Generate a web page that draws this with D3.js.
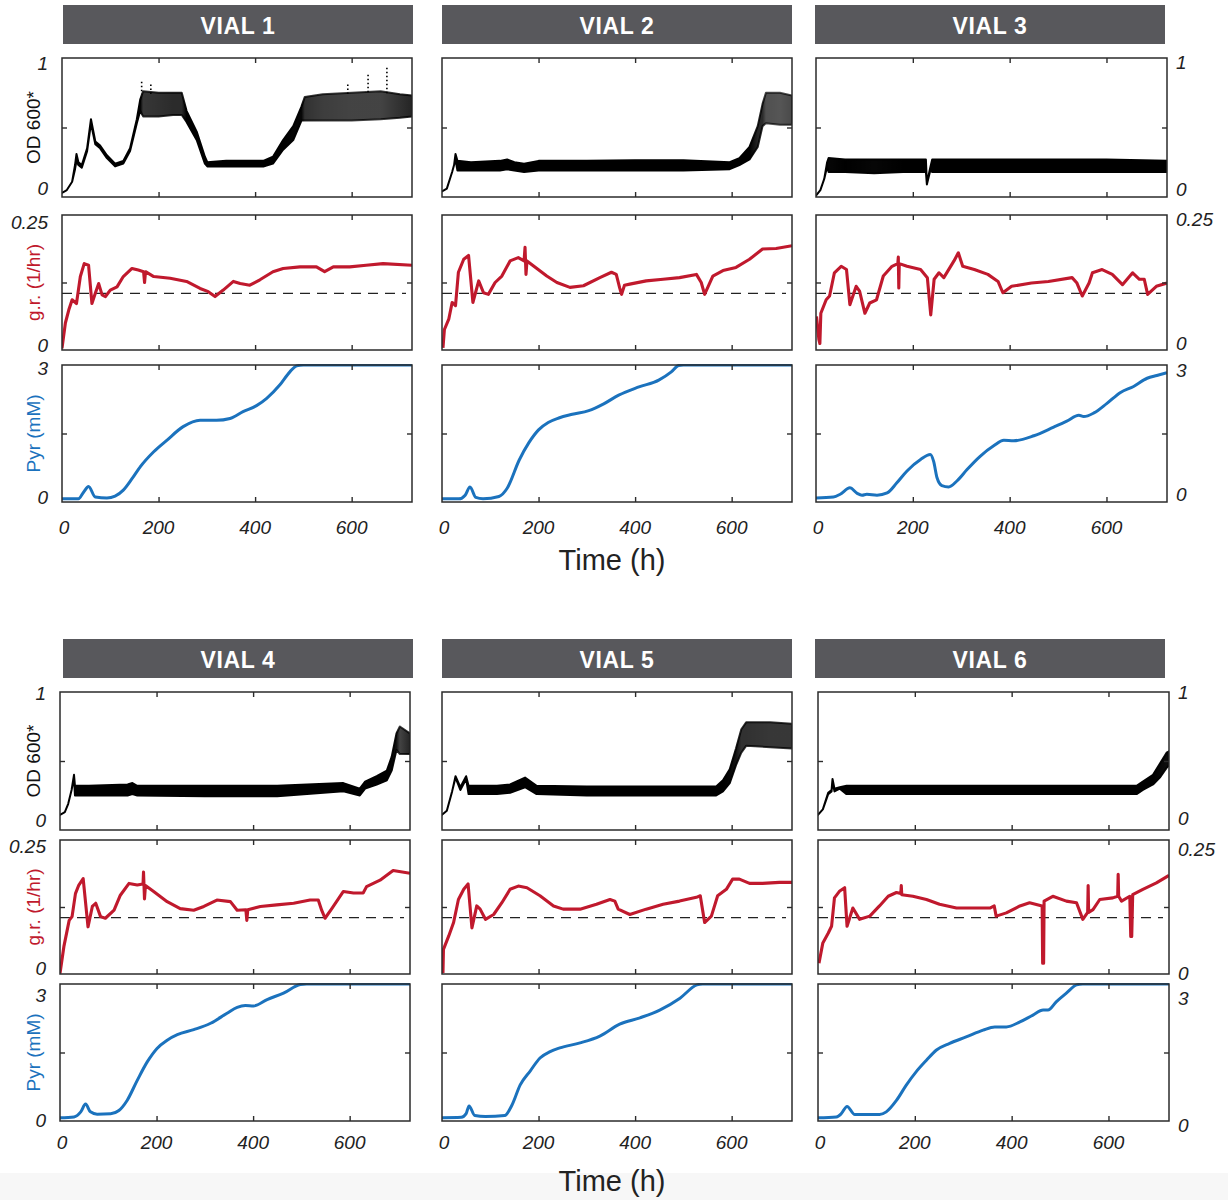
<!DOCTYPE html>
<meta charset="utf-8">
<style>
  body { margin: 0; background: #fff; }
  svg { display: block; font-family: "Liberation Sans", Arial, sans-serif; }
  .num { font-style: italic; font-size: 19px; fill: #222; }
</style>
<body>
<svg id="chart" width="1228" height="1200"></svg>
<script src="https://cdn.jsdelivr.net/npm/d3@7"></script>
<script>
// ---- data (time in h) ----
const vialNames = ["VIAL 1", "VIAL 2", "VIAL 3", "VIAL 4", "VIAL 5", "VIAL 6"];
const xTicks = [0, 200, 400, 600];
const threshold = 0.105;   // dashed reference growth rate

// OD 600*: [t, lower edge, upper edge] of the scatter band
const od1 = [[0,.03,.03],[10,.05,.05],[21,.11,.11],[27,.2,.23],[30,.26,.31],[34,.23,.25],[41,.21,.23],[52,.33,.35],[60,.53,.56],[69,.38,.40],[79,.35,.37],[93,.28,.30],[110,.22,.24],[127,.24,.26],[141,.33,.35],[155,.53,.56],[162,.62,.70],[168,.58,.76],[200,.58,.75],[230,.59,.75],[248,.59,.75],[258,.54,.62],[279,.41,.47],[296,.24,.29],[301,.22,.25],[340,.22,.26],[380,.22,.26],[417,.22,.26],[437,.24,.29],[458,.34,.41],[479,.41,.51],[496,.55,.65],[503,.55,.72],[540,.55,.74],[600,.55,.75],[660,.56,.76],[700,.57,.74],[725,.58,.73]];
const od2 = [[0,.04,.04],[10,.06,.06],[21,.18,.18],[25,.23,.23],[28,.27,.31],[32,.19,.26],[60,.19,.25],[120,.19,.26],[135,.2,.27],[150,.19,.25],[170,.18,.24],[200,.19,.26],[300,.19,.26],[400,.19,.265],[500,.19,.265],[596,.2,.25],[616,.23,.28],[637,.27,.36],[654,.36,.51],[664,.51,.67],[671,.53,.75],[700,.52,.75],[725,.52,.73]];
const od3 = [[0,.01,.01],[9,.05,.05],[17,.13,.13],[23,.22,.25],[26,.18,.28],[60,.18,.27],[120,.17,.27],[180,.18,.27],[227,.18,.27],[229,.09,.1],[236,.19,.21],[240,.18,.27],[300,.18,.27],[400,.18,.27],[500,.18,.27],[600,.18,.27],[725,.18,.26]];
const od4 = [[0,.11,.11],[10,.13,.13],[17,.19,.19],[24,.29,.29],[29,.38,.4],[31,.25,.32],[60,.25,.32],[140,.25,.33],[150,.26,.34],[160,.25,.32],[300,.245,.32],[450,.245,.32],[587,.28,.34],[621,.25,.3],[632,.3,.35],[656,.33,.39],[677,.36,.43],[687,.43,.53],[697,.58,.7],[704,.55,.75],[725,.55,.7]];
const od5 = [[0,.11,.11],[10,.14,.14],[21,.28,.28],[28,.38,.39],[38,.29,.31],[50,.37,.39],[55,.26,.32],[114,.26,.32],[141,.27,.33],[172,.31,.38],[196,.26,.32],[300,.25,.315],[450,.25,.315],[568,.25,.315],[582,.28,.36],[596,.34,.44],[609,.47,.59],[620,.56,.73],[630,.61,.78],[680,.6,.78],[725,.59,.77]];
const od6 = [[0,.11,.11],[10,.15,.15],[21,.26,.27],[28,.28,.29],[30,.35,.37],[34,.28,.3],[45,.3,.31],[59,.26,.32],[200,.26,.32],[400,.26,.32],[600,.26,.32],[658,.26,.32],[671,.29,.35],[692,.33,.4],[706,.38,.48],[720,.45,.56],[725,.47,.57]];
// stray OD points above the band in vial 1
const odOutliers1 = [[165,.83],[184,.81],[592,.81],[634,.88],[673,.93]];

// growth rate (1/hr): [t, value]
const gr1 = [[0,.003],[7,.05],[14,.074],[21,.093],[30,.086],[38,.136],[46,.16],[55,.157],[62,.086],[69,.105],[76,.123],[83,.102],[90,.099],[100,.111],[114,.117],[127,.136],[145,.151],[158,.148],[169,.145],[171,.125],[173,.145],[190,.136],[224,.133],[258,.127],[286,.114],[303,.108],[317,.099],[334,.111],[355,.127],[369,.123],[389,.12],[410,.13],[437,.145],[458,.151],[493,.154],[527,.154],[544,.145],[562,.154],[596,.154],[630,.157],[665,.16],[725,.157]];
const gr2 = [[2,.004],[5,.038],[14,.057],[21,.088],[28,.082],[34,.144],[45,.168],[55,.175],[64,.088],[76,.128],[86,.106],[96,.103],[110,.125],[124,.137],[141,.165],[158,.171],[170,.165],[172,.19],[174,.14],[176,.165],[189,.156],[217,.137],[238,.125],[265,.116],[293,.119],[327,.134],[351,.144],[361,.14],[368,.115],[372,.103],[378,.12],[389,.122],[423,.128],[458,.131],[492,.134],[527,.14],[537,.125],[544,.103],[561,.137],[582,.147],[609,.153],[637,.168],[664,.187],[692,.188],[725,.193]];
const gr3 = [[1,.062],[6,.019],[8,.012],[10,.068],[21,.093],[28,.1],[38,.143],[52,.155],[63,.149],[70,.084],[83,.118],[90,.109],[101,.068],[111,.087],[125,.093],[139,.137],[157,.155],[169,.16],[170,.172],[171,.115],[172,.16],[188,.155],[216,.149],[230,.134],[237,.065],[244,.131],[254,.143],[264,.134],[285,.165],[294,.18],[303,.155],[327,.149],[355,.14],[376,.127],[386,.106],[404,.118],[445,.124],[480,.127],[529,.134],[539,.124],[550,.1],[564,.124],[571,.143],[591,.149],[612,.14],[633,.121],[654,.143],[668,.131],[678,.131],[685,.103],[703,.118],[725,.124]];
const gr4 = [[0,.001],[8,.051],[19,.1],[25,.107],[32,.15],[39,.166],[48,.178],[58,.088],[67,.126],[74,.132],[84,.107],[94,.104],[112,.119],[125,.147],[143,.169],[160,.166],[172,.168],[173,.19],[175,.14],[177,.165],[194,.154],[222,.135],[249,.122],[277,.119],[298,.126],[325,.138],[353,.135],[367,.119],[385,.12],[387,.1],[389,.12],[415,.126],[449,.129],[484,.132],[518,.138],[535,.138],[542,.119],[549,.104],[563,.122],[587,.154],[608,.151],[628,.151],[635,.163],[663,.175],[690,.193],[725,.188]];
const gr5 = [[2,.002],[3,.046],[14,.071],[24,.096],[34,.139],[45,.158],[54,.168],[62,.086],[72,.127],[79,.121],[90,.102],[107,.111],[124,.133],[141,.158],[158,.164],[176,.161],[203,.146],[231,.127],[251,.121],[286,.121],[320,.13],[348,.139],[358,.136],[365,.121],[389,.111],[423,.121],[458,.13],[492,.136],[527,.143],[535,.146],[544,.096],[558,.108],[571,.146],[589,.158],[602,.177],[616,.177],[637,.169],[664,.169],[699,.171],[725,.171]];
const gr6 = [[2,.02],[10,.058],[21,.076],[28,.089],[34,.142],[45,.155],[55,.161],[60,.089],[72,.123],[86,.102],[107,.108],[127,.127],[145,.145],[162,.152],[171,.15],[172,.165],[173,.148],[196,.145],[224,.139],[251,.13],[286,.123],[320,.123],[355,.123],[364,.127],[368,.108],[389,.114],[417,.127],[437,.133],[463,.127],[464,.02],[466,.02],[467,.136],[485,.145],[513,.136],[534,.133],[547,.102],[557,.115],[558,.165],[559,.115],[568,.12],[582,.139],[609,.142],[619,.145],[620,.186],[621,.145],[627,.136],[644,.145],[646,.07],[648,.07],[650,.148],[671,.158],[699,.17],[725,.184]];

// pyruvate (mM): [t, value]
const pyr1 = [[0,.07],[34,.07],[45,.22],[55,.34],[69,.11],[93,.09],[110,.13],[127,.26],[145,.51],[162,.77],[190,1.1],[217,1.35],[251,1.65],[286,1.79],[320,1.79],[348,1.83],[375,1.98],[403,2.11],[424,2.27],[451,2.56],[472,2.85],[486,2.98],[500,3.0],[725,3.0]];
const pyr2 = [[0,.07],[35,.07],[48,.15],[58,.33],[70,.1],[85,.07],[118,.12],[135,.3],[160,.92],[180,1.3],[200,1.58],[220,1.74],[242,1.84],[270,1.92],[304,2.0],[335,2.15],[366,2.34],[408,2.52],[449,2.67],[475,2.85],[490,2.99],[500,3.0],[725,3.0]];
const pyr3 = [[0,.09],[36,.11],[50,.17],[70,.31],[85,.19],[95,.15],[105,.17],[126,.15],[147,.2],[167,.42],[188,.68],[216,.93],[236,1.04],[243,.89],[250,.53],[260,.36],[274,.33],[291,.46],[312,.71],[339,1.0],[367,1.23],[388,1.35],[408,1.34],[450,1.45],[491,1.64],[518,1.77],[543,1.9],[553,1.87],[574,1.95],[601,2.16],[629,2.4],[656,2.53],[684,2.71],[704,2.77],[725,2.83]];
const pyr4 = [[0,.07],[29,.09],[43,.2],[53,.37],[63,.2],[77,.15],[105,.16],[122,.23],[139,.45],[160,.89],[181,1.3],[201,1.59],[222,1.77],[243,1.89],[277,2.0],[312,2.14],[346,2.36],[367,2.49],[384,2.53],[401,2.52],[429,2.66],[463,2.8],[498,2.99],[511,3.0],[725,3.0]];
const pyr5 = [[0,.07],[40,.08],[50,.16],[56,.33],[68,.12],[90,.1],[130,.12],[145,.35],[162,.79],[183,1.1],[203,1.38],[224,1.52],[244,1.6],[286,1.71],[327,1.86],[368,2.12],[410,2.26],[451,2.43],[493,2.69],[528,2.98],[540,3.0],[725,3.0]];
const pyr6 = [[0,.07],[38,.09],[48,.16],[60,.32],[76,.14],[127,.14],[141,.2],[162,.45],[182,.78],[203,1.08],[224,1.33],[244,1.55],[272,1.7],[306,1.84],[341,1.99],[365,2.06],[389,2.06],[417,2.17],[444,2.32],[465,2.43],[475,2.43],[492,2.61],[513,2.8],[534,2.98],[547,3.0],[725,3.0]];

const odSeries = [od1, od2, od3, od4, od5, od6];
const grSeries = [gr1, gr2, gr3, gr4, gr5, gr6];
const pyrSeries = [pyr1, pyr2, pyr3, pyr4, pyr5, pyr6];

// ---- layout ----
const W = 1228, H = 1200;
const colX = [[[62,412],[442,792],[816,1167]], [[60,410],[442,792],[818,1169]]];
const headX = [[63,413],[442,792],[815,1165]];
const rows = [
  {head:[5,44], od:[58,197], gr:[215,350], pyr:[365,502], tickDy:25, titleY:570},
  {head:[639,678], od:[692,830], gr:[840,974], pyr:[984,1121], tickDy:21, titleY:1191}
];
// nudges for the end labels (top, bottom), as placed in the figure
const labelDy = {
  0: {od:[5,-9], gr:[7,-5], pyr:[3,-5]},
  2: {od:[4,-8], gr:[4,-7], pyr:[5,-8]},
  3: {od:[1,-10], gr:[6,-6], pyr:[11,-1]},
  5: {od:[0,-12], gr:[9,-1], pyr:[14,4]}
};
const RED = "#c0192d", BLUE = "#1b72bd", FRAME = "#2b2b2b";

const panels = [
  {key:"od", domain:[0,1], mid:0.5, ends:["1","0"], title:"OD 600*", color:"#111"},
  {key:"gr", domain:[0,0.25], mid:0.125, ends:["0.25","0"], title:"g.r. (1/hr)", color:RED},
  {key:"pyr", domain:[0,3], mid:1.5, ends:["3","0"], title:"Pyr (mM)", color:BLUE}
];

const svg = d3.select("#chart");
svg.append("rect").attr("width", W).attr("height", H).attr("fill", "#fff");
svg.append("rect").attr("y", 1173).attr("width", W).attr("height", H - 1173).attr("fill", "#f7f7f7");
const defs = svg.append("defs");

vialNames.forEach((name, i) => {
  const r = Math.floor(i / 3), c = i % 3;
  const R = rows[r];
  const [x0, x1] = colX[r][c];
  const x = d3.scaleLinear().domain([0, 725]).range([x0, x1]);
  const g = svg.append("g");

  // header bar
  g.append("rect")
    .attr("x", headX[c][0]).attr("y", R.head[0])
    .attr("width", headX[c][1] - headX[c][0]).attr("height", R.head[1] - R.head[0])
    .attr("fill", "#58585c");
  g.append("text")
    .attr("x", (headX[c][0] + headX[c][1]) / 2).attr("y", (R.head[0] + R.head[1]) / 2 + 1)
    .attr("text-anchor", "middle").attr("dominant-baseline", "central")
    .attr("fill", "#fff").attr("font-weight", "bold").attr("font-size", 23)
    .attr("letter-spacing", 0.6)
    .text(name);

  panels.forEach(p => {
    const [top, bot] = R[p.key];
    const y = d3.scaleLinear().domain(p.domain).range([bot, top]);
    const clipId = `clip-${i}-${p.key}`;
    defs.append("clipPath").attr("id", clipId)
      .append("rect").attr("x", x0).attr("y", top - 1).attr("width", x1 - x0).attr("height", bot - top + 2);
    const pg = g.append("g").attr("clip-path", `url(#${clipId})`);

    if (p.key === "od") {
      const data = odSeries[i];
      // darker where the band is tight, lighter where scatter is sparse
      const gradId = `odgrad-${i}`;
      const grad = defs.append("linearGradient").attr("id", gradId)
        .attr("gradientUnits", "userSpaceOnUse")
        .attr("x1", x0).attr("x2", x1).attr("y1", 0).attr("y2", 0);
      data.forEach(d => {
        const w = d[2] - d[1];
        grad.append("stop")
          .attr("offset", (x(d[0]) - x0) / (x1 - x0))
          .attr("stop-color", "#000")
          .attr("stop-opacity", Math.max(0.62, Math.min(1, 1 - (w - 0.09) * 2.4)));
      });
      pg.append("path").datum(data)
        .attr("d", d3.area().x(d => x(d[0])).y0(d => y(d[1])).y1(d => y(d[2])))
        .attr("fill", `url(#${gradId})`)
        .attr("stroke", `url(#${gradId})`).attr("stroke-width", 2)
        .attr("stroke-linejoin", "round");
      if (i === 0) {
        pg.selectAll("line.out").data(odOutliers1).join("line")
          .attr("x1", d => x(d[0])).attr("x2", d => x(d[0]))
          .attr("y1", d => y(d[1])).attr("y2", d => y(0.74))
          .attr("stroke", "#000").attr("stroke-width", 1.6).attr("stroke-dasharray", "1.6,2.4");
      }
    } else if (p.key === "gr") {
      pg.append("line")
        .attr("x1", x0).attr("x2", x1 - 6)
        .attr("y1", y(threshold)).attr("y2", y(threshold))
        .attr("stroke", "#222").attr("stroke-width", 1.3).attr("stroke-dasharray", "10,7");
      pg.append("path").datum(grSeries[i])
        .attr("d", d3.line().x(d => x(d[0])).y(d => y(d[1])))
        .attr("fill", "none").attr("stroke", RED).attr("stroke-width", 3.1)
        .attr("stroke-linejoin", "round");
    } else {
      pg.append("path").datum(pyrSeries[i])
        .attr("d", d3.line().curve(d3.curveMonotoneX).x(d => x(d[0])).y(d => y(d[1])))
        .attr("fill", "none").attr("stroke", BLUE).attr("stroke-width", 3);
    }

    // inward ticks on all four sides
    const inner = [200, 400, 600];
    g.append("g").attr("transform", `translate(0,${bot})`)
      .call(d3.axisBottom(x).tickValues(inner).tickSize(-5).tickFormat(""))
      .call(a => a.select(".domain").remove());
    g.append("g").attr("transform", `translate(0,${top})`)
      .call(d3.axisTop(x).tickValues(inner).tickSize(-5).tickFormat(""))
      .call(a => a.select(".domain").remove());
    g.append("g").attr("transform", `translate(${x0},0)`)
      .call(d3.axisLeft(y).tickValues([p.mid]).tickSize(-5).tickFormat(""))
      .call(a => a.select(".domain").remove());
    g.append("g").attr("transform", `translate(${x1},0)`)
      .call(d3.axisRight(y).tickValues([p.mid]).tickSize(-5).tickFormat(""))
      .call(a => a.select(".domain").remove());
    g.selectAll(".tick line").attr("stroke", FRAME).attr("stroke-width", 1.4);

    g.append("rect")
      .attr("x", x0).attr("y", top).attr("width", x1 - x0).attr("height", bot - top)
      .attr("fill", "none").attr("stroke", FRAME).attr("stroke-width", 1.5);

    // end labels, left on first column, right on last
    if (labelDy[i]) {
      const dy = labelDy[i][p.key];
      const left = c === 0;
      g.selectAll(null).data([[p.ends[0], y(p.domain[1]) + dy[0]], [p.ends[1], y(p.domain[0]) + dy[1]]])
        .join("text").attr("class", "num")
        .attr("x", left ? x0 - 14 : x1 + 9).attr("y", d => d[1])
        .attr("text-anchor", left ? "end" : "start").attr("dominant-baseline", "central")
        .text(d => d[0]);
    }
    if (c === 0) {
      g.append("text")
        .attr("transform", `translate(40,${(top + bot) / 2}) rotate(-90)`)
        .attr("text-anchor", "middle").attr("font-size", 19).attr("fill", p.color)
        .text(p.title);
    }

    if (p.key === "pyr") {
      g.selectAll(null).data(xTicks).join("text").attr("class", "num")
        .attr("x", d => x(d) + (d === 0 ? 2 : 0)).attr("y", bot + R.tickDy)
        .attr("text-anchor", "middle").attr("dominant-baseline", "central")
        .text(d => d);
    }
  });
});

rows.forEach(R => {
  svg.append("text")
    .attr("x", 612).attr("y", R.titleY)
    .attr("text-anchor", "middle").attr("font-size", 29).attr("fill", "#222")
    .text("Time (h)");
});
</script>
</body>
